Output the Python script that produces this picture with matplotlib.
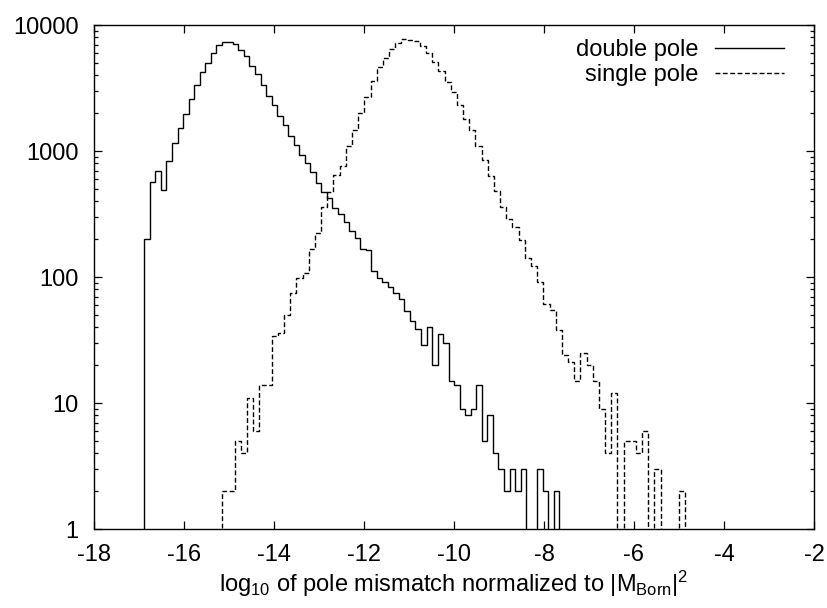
import numpy as np
import matplotlib
matplotlib.use('Agg')
import matplotlib.pyplot as plt
from matplotlib.ticker import FixedLocator, FuncFormatter, LogLocator, NullFormatter

plt.rcParams['font.family'] = ['Liberation Sans', 'DejaVu Sans']
plt.rcParams['mathtext.default'] = 'regular'
plt.rcParams['axes.unicode_minus'] = False

# histogram of double pole mismatch (75 bins)
double_lo, double_hi = -16.881, -7.659
double_counts = [200, 570, 690, 490, 840, 1160, 1515, 1955, 2570, 3340,
                 4210, 5020, 5960, 6935, 7330, 7300, 7020, 6335, 5675, 4730,
                 4080, 3340, 2733, 2306, 1905, 1598, 1325, 1116, 929, 798,
                 678, 555, 475, 421, 351, 315, 275, 233, 203, 166,
                 164, 112, 98, 92, 84, 75, 67, 54, 45, 39,
                 29, 40, 20, 35, 30, 15, 14, 9, 8, 9,
                 14, 5, 8, 4, 3, 2, 3, 2, 3, 0,
                 0, 3, 2, 0, 2]

# histogram of single pole mismatch (75 bins)
single_lo, single_hi = -15.148, -4.859
single_counts = [2, 2, 5, 4, 11, 6, 14, 14, 34, 36,
                 50, 75, 98, 107, 166, 222, 357, 470, 645, 760,
                 1102, 1468, 1990, 2700, 3594, 4670, 5505, 6410, 7150, 7740,
                 7600, 7460, 6810, 6030, 5115, 4340, 3550, 2960, 2317, 1784,
                 1468, 1096, 849, 637, 484, 361, 289, 251, 197, 142,
                 122, 92, 61, 55, 38, 24, 21, 15, 25, 20,
                 15, 9, 4, 12, 0, 5, 5, 4, 6, 0,
                 3, 0, 0, 0, 2]

x_ticks = [-18, -16, -14, -12, -10, -8, -6, -4, -2]
y_ticks = [1, 10, 100, 1000, 10000]

fig = plt.figure(figsize=(8.28, 6.08), dpi=100)
ax = fig.add_axes([94 / 828, 1 - 529 / 608, 720 / 828, 504 / 608])

floor = 1e-2
d_edges = np.linspace(double_lo, double_hi, len(double_counts) + 1)
s_edges = np.linspace(single_lo, single_hi, len(single_counts) + 1)
ax.stairs(np.maximum(double_counts, floor), d_edges, baseline=floor,
          color='k', lw=1.0, label='double pole')
ax.stairs(np.maximum(single_counts, floor), s_edges, baseline=floor,
          color='k', lw=1.0, linestyle=(0, (3.5, 1.8)), label='single pole')

ax.set_yscale('log')
ax.set_xlim(-18, -2)
ax.set_ylim(1, 10000)
ax.xaxis.set_major_locator(FixedLocator(x_ticks))
ax.xaxis.set_major_formatter(FuncFormatter(lambda v, p: '%d' % v))
ax.yaxis.set_major_locator(FixedLocator(y_ticks))
ax.yaxis.set_major_formatter(FuncFormatter(lambda v, p: '%d' % v))
ax.yaxis.set_minor_locator(LogLocator(base=10, subs=np.arange(2, 10)))
ax.yaxis.set_minor_formatter(NullFormatter())
ax.tick_params(which='both', direction='in', top=True, right=True,
               labelsize=17, width=0.9)
ax.tick_params(which='major', length=6, pad=11)
ax.tick_params(which='minor', length=3.2)
for s in ax.spines.values():
    s.set_linewidth(1.0)

ax.set_xlabel(r'log$_{10}$ of pole mismatch normalized to |M$_{Born}$|$^2$',
              fontsize=17, labelpad=2)

ax.legend(loc='upper right', bbox_to_anchor=(0.958, 0.972), frameon=False,
          markerfirst=False, fontsize=17, handlelength=2.9,
          handletextpad=0.7, labelspacing=0.12, borderpad=0,
          borderaxespad=0)

fig.savefig('out.png', dpi=100)
